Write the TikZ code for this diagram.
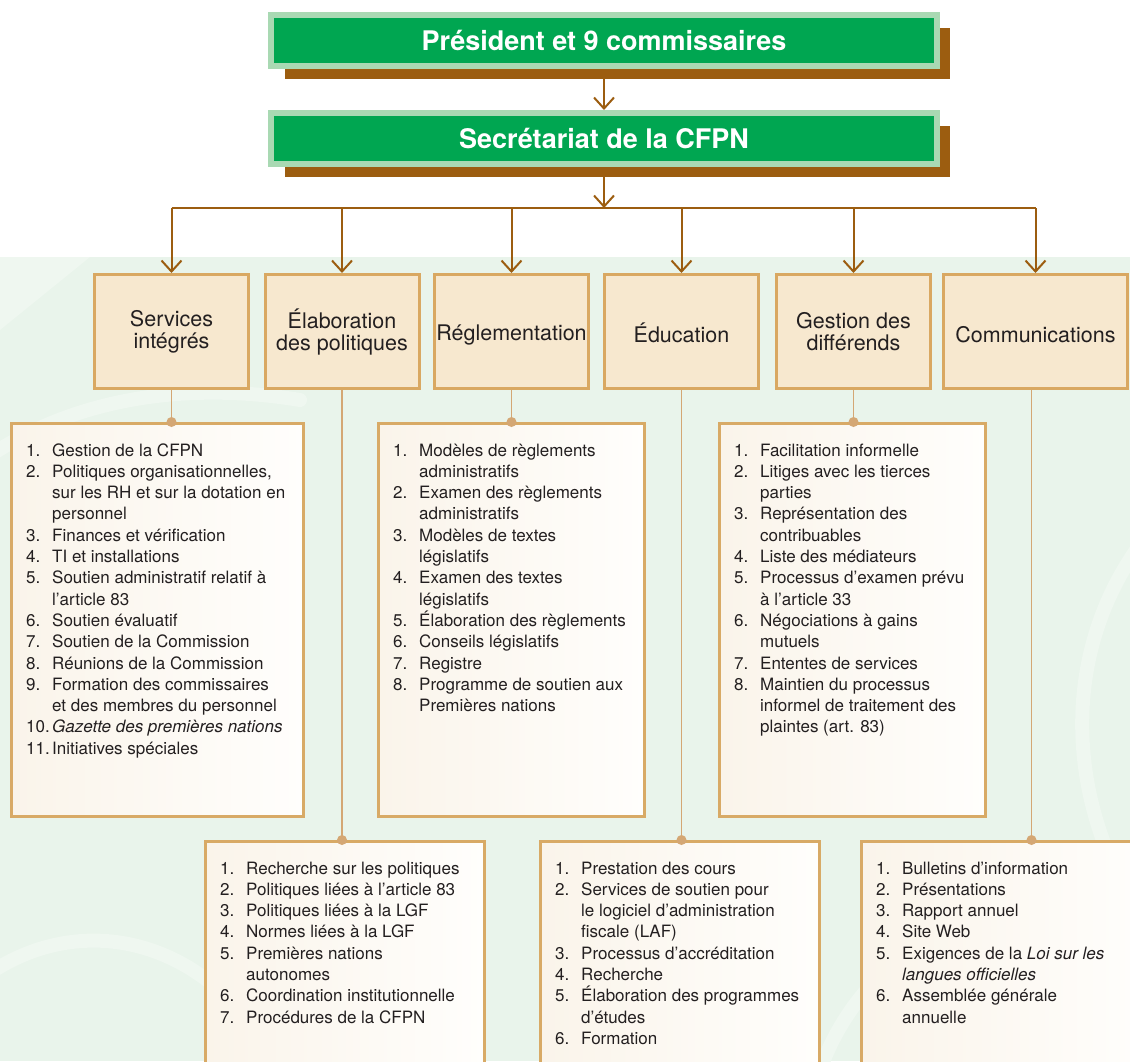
\documentclass[tikz,border=0pt]{standalone}
\usepackage{fontspec}
\setmainfont{TeX Gyre Heros}
\usetikzlibrary{arrows.meta,calc}
\definecolor{dkgreen}{HTML}{00A651}
\definecolor{ltgreen}{HTML}{A9D9B3}
\definecolor{brownc}{HTML}{9C5D10}
\definecolor{deptfill}{HTML}{F7E8CF}
\definecolor{deptline}{HTML}{D9A862}
\definecolor{listline}{HTML}{D8AA66}
\definecolor{listleft}{HTML}{FAF4EA}
\definecolor{listright}{HTML}{FFFEFC}
\definecolor{connc}{HTML}{D4A774}
\definecolor{bggreen}{HTML}{E9F4EB}
\definecolor{swirlc}{HTML}{EFF7F0}
\definecolor{txt}{HTML}{231F20}
\newcommand\itm[2]{\hangindent=26pt\hangafter=1\noindent\makebox[26pt][l]{#1}#2\par}
\newcommand\lst[1]{\vtop{\hsize=400pt\parindent=0pt\parskip=0pt\raggedright #1}}
\begin{document}
\begin{tikzpicture}[x=1pt,y=-1pt,
  topbox/.style={fill=dkgreen, draw=ltgreen, line width=6pt, minimum width=666pt, minimum height=51pt, text=white, font=\fontsize{27}{32}\selectfont\bfseries, inner sep=0pt},
  arr/.style={draw=brownc, line width=2pt, -{Straight Barb[length=11pt,width=20pt]}},
  busline/.style={draw=brownc, line width=2.5pt},
  dept/.style={fill=deptfill, draw=deptline, line width=3pt, minimum width=154pt, minimum height=114pt, align=center, text=txt, font=\fontsize{21.5}{22}\selectfont, inner sep=0pt, execute at begin node={\rule{0pt}{23pt}}},
  lbox/.style={draw=listline, line width=3pt, left color=listleft, right color=listright, inner sep=0pt},
  conn/.style={draw=connc, line width=1.3pt},
  jdot/.style={circle, fill=connc, minimum size=10pt, inner sep=0pt},
  ltext/.style={anchor=base west, inner sep=0pt, text=txt, font=\fontsize{17}{21.3}\selectfont},
  swirl/.style={draw=swirlc, line width=14pt, line cap=round}
]
\useasboundingbox (0,0) rectangle (1130,1061);
% background
\fill[white] (0,0) rectangle (1130,1061);
\fill[bggreen] (0,257) rectangle (1130,1061);
\begin{scope}
\clip (0,257) rectangle (1130,1061);
\draw[swirl] (-30,470) .. controls (60,400) and (180,380) .. (300,400);
\draw[swirl] (1160,520) .. controls (1070,620) and (1060,760) .. (1120,880);
\draw[swirl] (-20,980) .. controls (60,920) and (160,930) .. (230,1000);
\draw[swirl] (820,1070) .. controls (860,960) and (960,900) .. (1060,930);
\fill[swirlc] (0,257) -- (90,257) -- (0,330) -- cycle;
\end{scope}
% shadows
\fill[brownc] (285,28) rectangle (950,79);
\fill[brownc] (285,126) rectangle (950,177);
% top boxes
\node[topbox] (pres) at (604,40.5) {Président et 9 commissaires};
\node[topbox] (sec) at (604,138.5) {Secrétariat de la CFPN};
\draw[arr] (pres.south) -- (sec.north);
% bus
\coordinate (b0) at (604,208);
\coordinate (b1) at (171.5,208);
\coordinate (b2) at (342,208);
\coordinate (b3) at (511.5,208);
\coordinate (b4) at (681.5,208);
\coordinate (b5) at (853.5,208);
\coordinate (b6) at (1035.5,208);
\draw[busline] (b1) -- (b6);
\draw[arr] (sec.south) -- (b0);
% departments
\node[dept] (d1) at (171.5,331.5) {Services\\intégrés};
\node[dept] (d2) at (342,331.5) {Élaboration\\des politiques};
\node[dept] (d3) at (511.5,331.5) {Réglementation};
\node[dept] (d4) at (681.5,331.5) {Éducation};
\node[dept] (d5) at (853.5,331.5) {Gestion des\\différends};
\node[dept, minimum width=184pt] (d6) at (1035.5,331.5) {Communications};
\foreach \i in {1,...,6} {\draw[arr] (b\i) -- (d\i.north);}
% list boxes
\node[lbox, minimum width=292pt, minimum height=393pt] (l1) at (157.5,620) {};
\node[lbox, minimum width=266pt, minimum height=393pt] (l3) at (511.5,620) {};
\node[lbox, minimum width=266pt, minimum height=393pt] (l5) at (852.5,620) {};
\node[lbox, minimum width=279pt, minimum height=232pt] (l2) at (345,957.5) {};
\node[lbox, minimum width=279pt, minimum height=232pt] (l4) at (680,957.5) {};
\node[lbox, minimum width=287pt, minimum height=232pt] (l6) at (1005,957.5) {};
% connectors
\draw[conn] (d1.south) -- (d1.south |- l1.north);
\draw[conn] (d3.south) -- (d3.south |- l3.north);
\draw[conn] (d5.south) -- (d5.south |- l5.north);
\draw[conn] (d2.south) -- (d2.south |- l2.north);
\draw[conn] (d4.south) -- (d4.south |- l4.north);
\draw[conn] ([xshift=-4pt]d6.south) -- ([xshift=-4pt]d6.south |- l6.north);
\node[jdot] (p1) at (d1.south |- l1.north) {};
\node[jdot] (p3) at (d3.south |- l3.north) {};
\node[jdot] (p5) at (d5.south |- l5.north) {};
\node[jdot] (p2) at (d2.south |- l2.north) {};
\node[jdot] (p4) at (d4.south |- l4.north) {};
\node[jdot] (p6) at ([xshift=-4pt]d6.south |- l6.north) {};
% list texts
\node[ltext] (t1) at (26,456) {\lst{%
\itm{1.}{Gestion de la CFPN}
\itm{2.}{Politiques organisationnelles,\newline sur les RH et sur la dotation en\newline personnel}
\itm{3.}{Finances et vérification}
\itm{4.}{TI et installations}
\itm{5.}{Soutien administratif relatif à\newline l’article 83}
\itm{6.}{Soutien évaluatif}
\itm{7.}{Soutien de la Commission}
\itm{8.}{Réunions de la Commission}
\itm{9.}{Formation des commissaires\newline et des membres du personnel}
\itm{10.}{\textit{Gazette des premières nations}}
\itm{11.}{Initiatives spéciales}}};
\node[ltext] (t3) at (393,456) {\lst{%
\itm{1.}{Modèles de règlements\newline administratifs}
\itm{2.}{Examen des règlements\newline administratifs}
\itm{3.}{Modèles de textes\newline législatifs}
\itm{4.}{Examen des textes\newline législatifs}
\itm{5.}{Élaboration des règlements}
\itm{6.}{Conseils législatifs}
\itm{7.}{Registre}
\itm{8.}{Programme de soutien aux\newline Premières nations}}};
\node[ltext] (t5) at (734,456) {\lst{%
\itm{1.}{Facilitation informelle}
\itm{2.}{Litiges avec les tierces\newline parties}
\itm{3.}{Représentation des\newline contribuables}
\itm{4.}{Liste des médiateurs}
\itm{5.}{Processus d’examen prévu\newline à l’article 33}
\itm{6.}{Négociations à gains\newline mutuels}
\itm{7.}{Ententes de services}
\itm{8.}{Maintien du processus\newline informel de traitement des\newline plaintes (art. 83)}}};
\node[ltext] (t2) at (220,874) {\lst{%
\itm{1.}{Recherche sur les politiques}
\itm{2.}{Politiques liées à l’article 83}
\itm{3.}{Politiques liées à la LGF}
\itm{4.}{Normes liées à la LGF}
\itm{5.}{Premières nations\newline autonomes}
\itm{6.}{Coordination institutionnelle}
\itm{7.}{Procédures de la CFPN}}};
\node[ltext] (t4) at (555,874) {\lst{%
\itm{1.}{Prestation des cours}
\itm{2.}{Services de soutien pour\newline le logiciel d’administration\newline fiscale (LAF)}
\itm{3.}{Processus d’accréditation}
\itm{4.}{Recherche}
\itm{5.}{Élaboration des programmes\newline d’études}
\itm{6.}{Formation}}};
\node[ltext] (t6) at (876,874) {\lst{%
\itm{1.}{Bulletins d’information}
\itm{2.}{Présentations}
\itm{3.}{Rapport annuel}
\itm{4.}{Site Web}
\itm{5.}{Exigences de la \textit{Loi sur les\newline langues officielles}}
\itm{6.}{Assemblée générale\newline annuelle}}};
\end{tikzpicture}
\end{document}
